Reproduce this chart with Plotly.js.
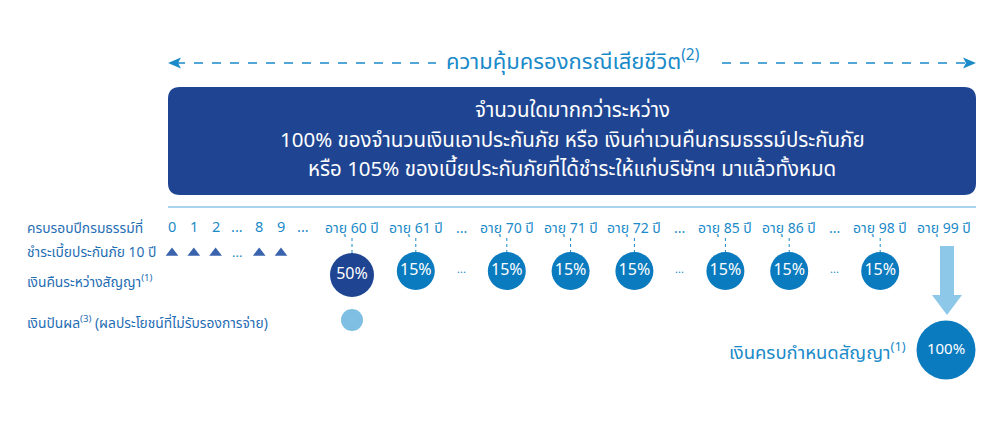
<!DOCTYPE html>
<html>
<head>
<meta charset="utf-8">
<script src="https://cdn.plot.ly/plotly-3.0.1.min.js"></script>
<style>html,body{margin:0;padding:0;background:#fff;}#chart{width:1000px;height:430px;}</style>
</head>
<body>
<div id="chart"></div>
<script>
// ---- data ----
const coverageTitle = "ความคุ้มครองกรณีเสียชีวิต";
const coverageNote = "(2)";
const coverageLines = [
  "จำนวนใดมากกว่าระหว่าง",
  "100% ของจำนวนเงินเอาประกันภัย หรือ เงินค่าเวนคืนกรมธรรม์ประกันภัย",
  "หรือ 105% ของเบี้ยประกันภัยที่ได้ชำระให้แก่บริษัทฯ มาแล้วทั้งหมด"
];
const rowLabels = [
  "ครบรอบปีกรมธรรม์ที่",
  "ชำระเบี้ยประกันภัย 10 ปี",
  "เงินคืนระหว่างสัญญา<sup>(1)</sup>",
  "เงินปันผล<sup>(3)</sup> (ผลประโยชน์ที่ไม่รับรองการจ่าย)"
];
const policyYears = ["0", "1", "2", "...", "8", "9", "..."];
const premiumPaid = [1, 1, 1, "...", 1, 1, null];
const ages = [60, 61, null, 70, 71, 72, null, 85, 86, null, 98, 99];
const cashBackPct = [50, 15, null, 15, 15, 15, null, 15, 15, null, 15, null];
const dividendAges = [60];
const maturityAge = 99;
const maturityPct = 100;
const maturityLabel = "เงินครบกำหนดสัญญา<sup>(1)</sup>";

// ---- layout helpers ----
const FONT = "'Noto Sans Thai', 'Noto Sans', sans-serif";
const C_DARK = "#1f4592", C_MID = "#0a7bbf", C_TEXT = "#1a8ac9", C_LABEL = "#1f6db3", C_LIGHT = "#8ec8e8";
const yearX = policyYears.map((_, i) => 172 + i * 21.8);
const ageX = [];
ages.forEach((a, i) => {
  if (i === 0) { ageX.push(352); return; }
  const ell = a === null || ages[i - 1] === null;
  ageX.push(ageX[i - 1] + (ell ? 45.5 : 63.8));
});
const xOfAge = a => ageX[ages.indexOf(a)];

const traces = [];
const annotations = [];
const shapes = [];

// title + dashed arrows
annotations.push({x: 572, y: 61, xref: 'x', yref: 'y', showarrow: false, xanchor: 'center', yanchor: 'middle',
  text: coverageTitle + "<sup>" + coverageNote + "</sup>", font: {family: FONT, size: 22, color: C_TEXT}});
shapes.push({type: 'line', x0: 176, x1: 436, y0: 63, y1: 63, line: {color: C_TEXT, width: 1.5, dash: 'dash'}});
shapes.push({type: 'line', x0: 722, x1: 966, y0: 63, y1: 63, line: {color: C_TEXT, width: 1.5, dash: 'dash'}});
shapes.push({type: 'path', path: 'M168,63 L181,57.5 L178,63 L181,68.5 Z', fillcolor: C_TEXT, line: {width: 0}});
shapes.push({type: 'path', path: 'M976,63 L963,57.5 L966,63 L963,68.5 Z', fillcolor: C_TEXT, line: {width: 0}});

// rounded box
const bx0 = 168, bx1 = 976, by0 = 87, by1 = 195, r = 12;
shapes.push({type: 'path', fillcolor: C_DARK, line: {width: 0},
  path: `M${bx0 + r},${by0} L${bx1 - r},${by0} Q${bx1},${by0} ${bx1},${by0 + r} L${bx1},${by1 - r} Q${bx1},${by1} ${bx1 - r},${by1} L${bx0 + r},${by1} Q${bx0},${by1} ${bx0},${by1 - r} L${bx0},${by0 + r} Q${bx0},${by0} ${bx0 + r},${by0} Z`});
const lineY = [110, 140, 169];
coverageLines.forEach((t, i) => annotations.push({x: 572, y: lineY[i], xref: 'x', yref: 'y', showarrow: false,
  xanchor: 'center', yanchor: 'middle', text: t, font: {family: FONT, size: 20.5, color: '#ffffff'}}));

// separator
shapes.push({type: 'line', x0: 168, x1: 976, y0: 207, y1: 207, line: {color: '#a8d4ee', width: 2}});

// row labels
const rowY = [228, 252, 282, 323];
rowLabels.forEach((t, i) => annotations.push({x: 25, y: rowY[i], xref: 'x', yref: 'y', showarrow: false,
  xanchor: 'left', yanchor: 'middle', text: t, font: {family: FONT, size: 13.8, color: C_LABEL}}));

// policy years
policyYears.forEach((t, i) => annotations.push({x: yearX[i], y: 228, xref: 'x', yref: 'y', showarrow: false,
  xanchor: 'center', yanchor: 'middle', text: t, font: {family: FONT, size: 14.5, color: C_TEXT}}));

// premium triangles
const triX = [], triY = [];
premiumPaid.forEach((p, i) => {
  if (p === 1) { triX.push(yearX[i]); triY.push(253); }
  else if (p === "...") annotations.push({x: yearX[i], y: 253, xref: 'x', yref: 'y', showarrow: false,
    xanchor: 'center', yanchor: 'middle', text: '...', font: {family: FONT, size: 13, color: C_TEXT}});
});
traces.push({type: 'scatter', mode: 'markers', x: triX, y: triY, hoverinfo: 'skip',
  marker: {symbol: 'triangle-up', size: 11, color: '#3a63ad', opacity: 1}});

// ages + cash back
const cbX = [], cbY = [], cbT = [], cbS = [], cbC = [];
ages.forEach((a, i) => {
  const x = ageX[i];
  annotations.push({x: x, y: 228, xref: 'x', yref: 'y', showarrow: false, xanchor: 'center', yanchor: 'middle',
    text: a === null ? '...' : 'อายุ ' + a + ' ปี', font: {family: FONT, size: 14, color: C_TEXT}});
  const v = cashBackPct[i];
  if (a === null) {
    annotations.push({x: x, y: 269, xref: 'x', yref: 'y', showarrow: false, xanchor: 'center', yanchor: 'middle',
      text: '...', font: {family: FONT, size: 11, color: C_TEXT}});
  } else if (v !== null) {
    const big = v === 50;
    cbX.push(x); cbY.push(big ? 275 : 271); cbT.push(v + '%');
    cbS.push(big ? 44 : 38); cbC.push(big ? C_DARK : C_MID);
    shapes.push({type: 'line', layer: 'below', x0: x, x1: x, y0: 238, y1: 256, line: {color: C_TEXT, width: 1, dash: 'dot'}});
  }
});
traces.push({type: 'scatter', mode: 'markers+text', x: cbX, y: cbY, text: cbT, textposition: 'middle center',
  hoverinfo: 'skip', textfont: {family: FONT, size: 16, color: '#ffffff'},
  marker: {size: cbS, color: cbC, opacity: 1, line: {width: 0}}});

// dividend
traces.push({type: 'scatter', mode: 'markers', x: dividendAges.map(xOfAge), y: dividendAges.map(() => 320),
  hoverinfo: 'skip', marker: {size: 22, color: '#7fbfe3', opacity: 1, line: {width: 0}}});

// maturity arrow + circle
const mx = xOfAge(maturityAge) + 3;
shapes.push({type: 'path', fillcolor: C_LIGHT, line: {width: 0},
  path: `M${mx - 7},246 L${mx + 7},246 L${mx + 7},295 L${mx + 15},295 L${mx},315 L${mx - 15},295 L${mx - 7},295 Z`});
traces.push({type: 'scatter', mode: 'markers+text', x: [mx - 1], y: [350], text: [maturityPct + '%'],
  textposition: 'middle center', hoverinfo: 'skip', textfont: {family: FONT, size: 15, color: '#ffffff'},
  marker: {size: 59, color: C_MID, opacity: 1, line: {width: 0}}});
annotations.push({x: 908, y: 352, xref: 'x', yref: 'y', showarrow: false, xanchor: 'right', yanchor: 'middle',
  text: maturityLabel, font: {family: FONT, size: 18.5, color: C_TEXT}});

Plotly.newPlot('chart', traces, {
  width: 1000, height: 430, autosize: false,
  margin: {l: 0, r: 0, t: 0, b: 0, pad: 0},
  paper_bgcolor: '#ffffff', plot_bgcolor: '#ffffff', showlegend: false,
  xaxis: {range: [0, 1000], visible: false, fixedrange: true},
  yaxis: {range: [430, 0], visible: false, fixedrange: true},
  shapes: shapes, annotations: annotations
}, {staticPlot: true});
</script>
</body>
</html>
